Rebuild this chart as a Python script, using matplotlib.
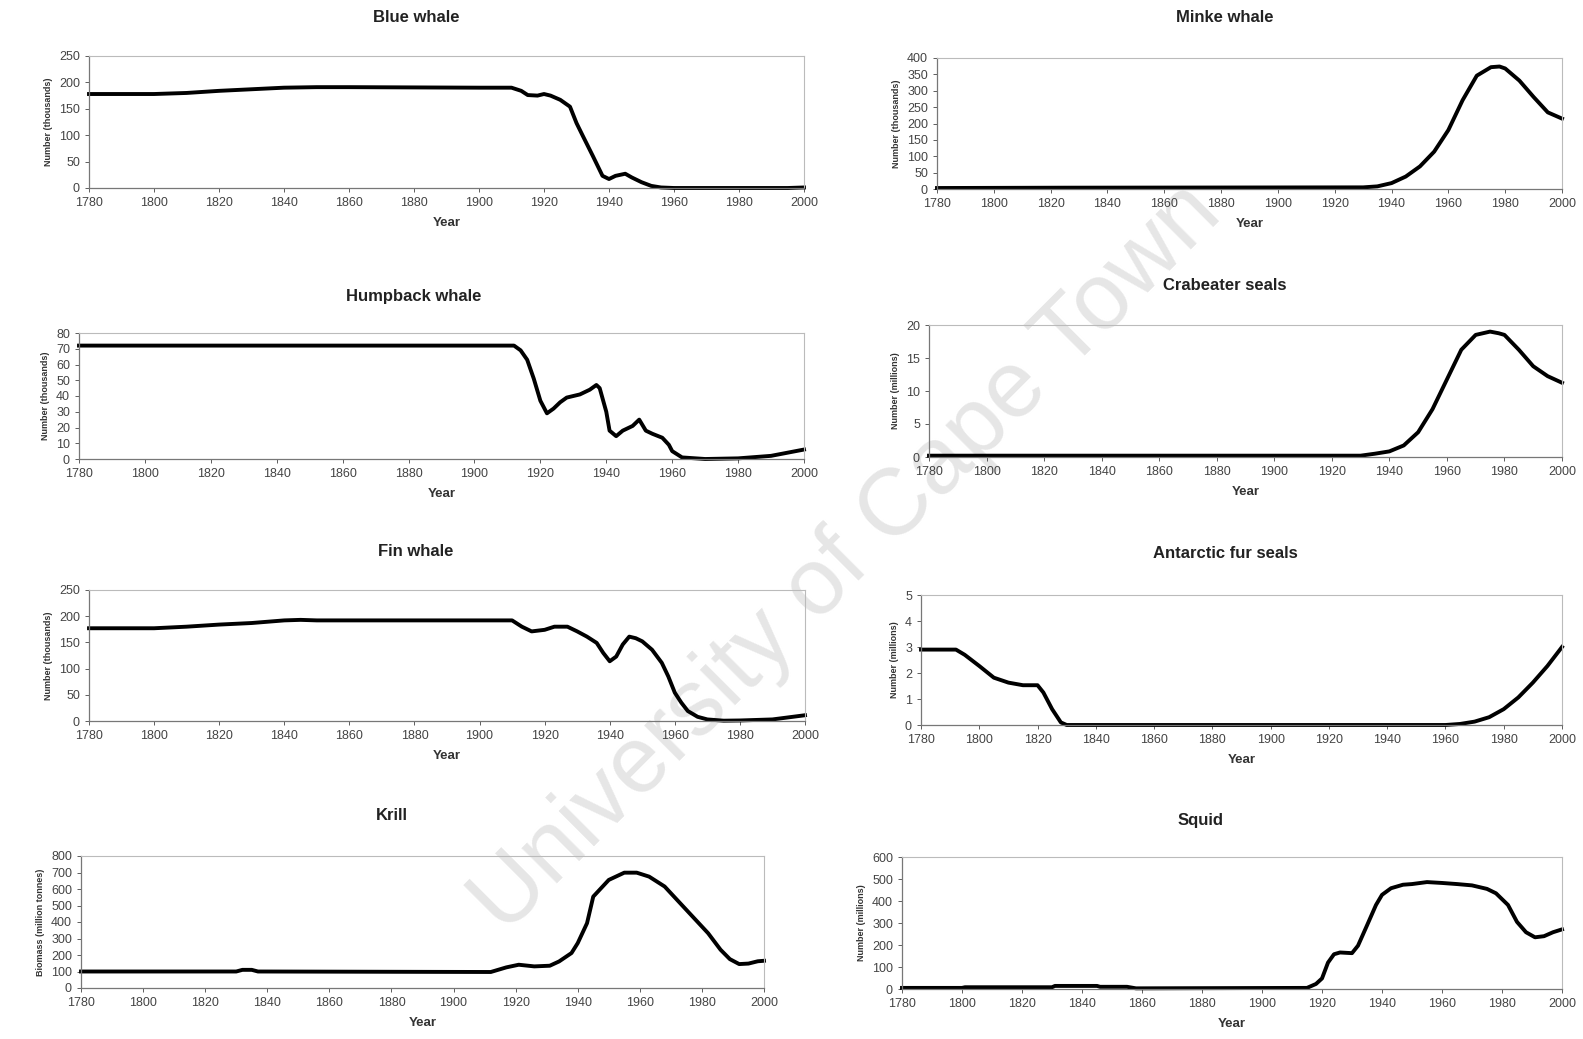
import matplotlib.pyplot as plt

plt.rcParams['font.family'] = ['Liberation Sans', 'DejaVu Sans']

# values (year, population)
blue_yr = [1780, 1800, 1810, 1820, 1830, 1840, 1850, 1860, 1900, 1910, 1913, 1915, 1918, 1920, 1922, 1925,
           1928, 1930, 1932, 1935, 1938, 1940, 1942, 1945, 1947, 1950, 1953, 1956, 1960, 1980, 1995, 2000]
blue_val = [178, 178, 180, 184, 187, 190, 191, 191, 190, 190, 184, 176, 175, 178, 175, 167,
            154, 123, 98, 61, 23, 17, 23, 27, 20, 11, 4, 1, 0, 0, 0, 1]

minke_yr = [1780, 1825, 1930, 1935, 1940, 1945, 1950, 1955, 1960, 1965, 1970, 1975, 1978, 1980, 1985, 1990, 1995, 2000]
minke_val = [3, 4, 5, 8, 18, 38, 69, 114, 180, 271, 346, 372, 374, 368, 331, 281, 234, 215]

hump_yr = [1780, 1800, 1850, 1900, 1912, 1914, 1916, 1918, 1920, 1922, 1924, 1926, 1928, 1932, 1935, 1937, 1938,
           1940, 1941, 1943, 1945, 1948, 1950, 1952, 1954, 1957, 1959, 1960, 1963, 1970, 1980, 1990, 2000]
hump_val = [72, 72, 72, 72, 72, 69, 63, 51, 37, 29, 32, 36, 39, 41, 44, 47, 45,
            30, 18, 14.5, 18, 21, 25, 18, 16, 13.5, 9, 5, 1, 0, 0.4, 2, 6]

crab_yr = [1780, 1930, 1935, 1940, 1945, 1950, 1955, 1960, 1965, 1970, 1975, 1978, 1980, 1985, 1990, 1995, 2000]
crab_val = [0.2, 0.2, 0.5, 0.85, 1.75, 3.75, 7.25, 11.75, 16.25, 18.5, 19, 18.75, 18.5, 16.25, 13.75, 12.25, 11.25]

fin_yr = [1780, 1800, 1810, 1820, 1830, 1840, 1845, 1850, 1910, 1913, 1916, 1920, 1923, 1927, 1930, 1933, 1936, 1938,
          1940, 1942, 1944, 1946, 1948, 1950, 1953, 1956, 1958, 1960, 1962, 1964, 1967, 1970, 1975, 1980, 1990, 2000]
fin_val = [177, 177, 180, 184, 187, 192, 193, 192, 192, 180, 171, 174, 180, 180, 171, 161, 149, 130,
           114, 123, 146, 161, 158, 152, 136, 111, 85, 54, 35, 19, 8, 3, 0.6, 1, 3, 11]

fur_yr = [1780, 1792, 1795, 1800, 1805, 1810, 1815, 1820, 1822, 1825, 1828, 1830,
          1960, 1965, 1970, 1975, 1980, 1985, 1990, 1995, 2000]
fur_val = [2.9, 2.9, 2.7, 2.27, 1.82, 1.63, 1.53, 1.53, 1.25, 0.61, 0.1, 0,
           0, 0.04, 0.13, 0.3, 0.61, 1.06, 1.63, 2.27, 3.0]

krill_yr = [1780, 1830, 1832, 1835, 1837, 1912, 1917, 1921, 1926, 1931, 1934, 1938, 1940, 1943, 1945,
            1950, 1955, 1959, 1963, 1968, 1972, 1977, 1982, 1986, 1989, 1992, 1995, 1998, 2000]
krill_val = [100, 100, 110, 110, 100, 97, 125, 141, 131, 135, 161, 212, 272, 393, 554,
             655, 699, 699, 675, 615, 534, 433, 332, 232, 175, 145, 148, 162, 165]

squid_yr = [1780, 1800, 1801, 1830, 1831, 1845, 1846, 1855, 1858, 1915, 1918, 1920, 1922, 1924, 1926, 1930, 1932, 1935,
            1938, 1940, 1943, 1947, 1950, 1955, 1960, 1965, 1970, 1975, 1978, 1982, 1985, 1988, 1991, 1994, 1997, 2000]
squid_val = [5, 5, 8, 8, 14, 14, 10, 10, 3, 5, 23, 48, 120, 158, 166, 163, 197, 289,
             382, 428, 458, 474, 477, 486, 482, 477, 471, 455, 435, 382, 305, 258, 235, 240, 258, 271]

year_ticks = list(range(1780, 2001, 20))

W, H = 1583, 1039
fig = plt.figure(figsize=(W / 100, H / 100), dpi=100)

# (title, ylabel, years, values, ymax, ystep, axes box px [x0, x1, ytop, ybot], title px [x, y])
panels = [
    ("Blue whale", "Number (thousands)", blue_yr, blue_val, 250, 50, [89, 804, 56, 188], [416, 17]),
    ("Minke whale", "Number (thousands)", minke_yr, minke_val, 400, 50, [937, 1562, 58, 189], [1225, 18]),
    ("Humpback whale", "Number (thousands)", hump_yr, hump_val, 80, 10, [79, 804, 333, 459], [414, 297]),
    ("Crabeater seals", "Number (millions)", crab_yr, crab_val, 20, 5, [929, 1562, 325, 457], [1225, 285]),
    ("Fin whale", "Number (thousands)", fin_yr, fin_val, 250, 50, [89, 805, 590, 721], [416, 552]),
    ("Antarctic fur seals", "Number (millions)", fur_yr, fur_val, 5, 1, [921, 1562, 595, 725], [1225, 553]),
    ("Krill", "Biomass (million tonnes)", krill_yr, krill_val, 800, 100, [81, 764, 856, 988], [392, 816]),
    ("Squid", "Number (millions)", squid_yr, squid_val, 600, 100, [902, 1562, 857, 989], [1201, 820]),
]

for title, ylab, yrs, vals, ymax, ystep, box, tpos in panels:
    x0, x1, yt, yb = box
    ax = fig.add_axes([x0 / W, 1 - yb / H, (x1 - x0) / W, (yb - yt) / H])
    ax.set_facecolor('none')
    ax.plot(yrs, vals, color='black', lw=2.8, solid_joinstyle='round', clip_on=False)
    ax.set_xlim(1780, 2000)
    ax.set_ylim(0, ymax)
    ax.set_xticks(year_ticks)
    ax.set_yticks(range(0, ymax + 1, ystep))
    ax.tick_params(labelsize=9, colors='#444444', length=3, width=0.6)
    for side in ['top', 'right']:
        ax.spines[side].set_color('#bbbbbb')
        ax.spines[side].set_linewidth(0.8)
    for side in ['left', 'bottom']:
        ax.spines[side].set_color('#777777')
        ax.spines[side].set_linewidth(0.9)
    ax.set_ylabel(ylab, fontsize=6.5, fontweight='bold', color='#333333', labelpad=4)
    ax.set_xlabel("Year", fontsize=9.5, fontweight='bold', color='#333333', labelpad=6)
    fig.text(tpos[0] / W, 1 - tpos[1] / H, title, ha='center', va='center',
             fontsize=12, fontweight='bold', color='#222222')

# scan watermark
fig.text(0.535, 0.462, "University of Cape Town", rotation=45, ha='center', va='center',
         fontsize=68, color='#e6e6e6', zorder=-1)

plt.savefig('out.png', dpi=100)
